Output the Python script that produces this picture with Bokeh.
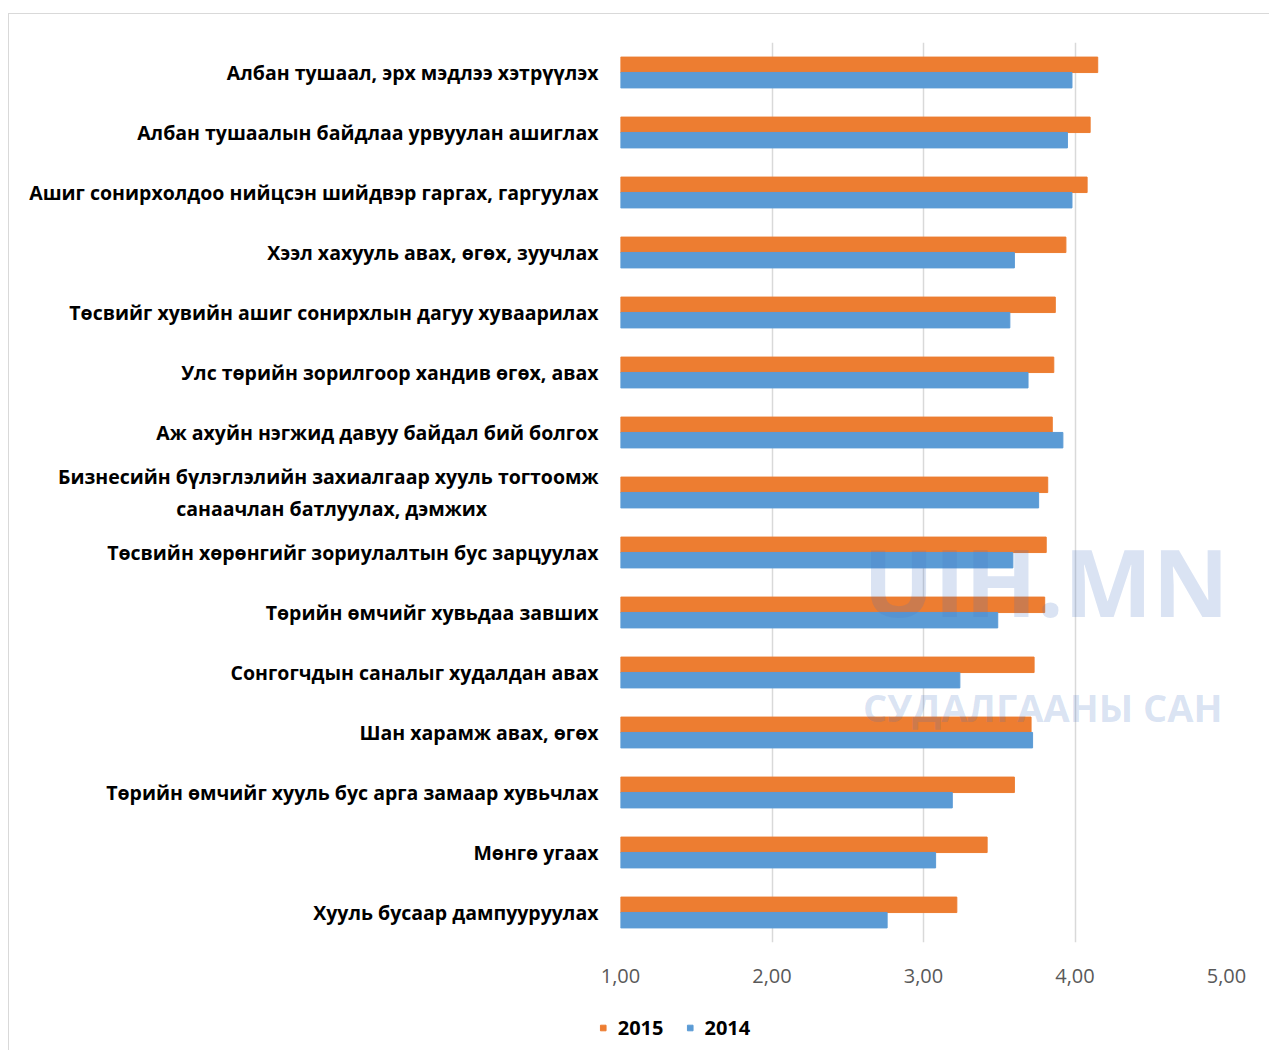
from bokeh.plotting import figure
from bokeh.models import (ColumnDataSource, FactorRange, Range1d, FixedTicker,
                          Legend, LegendItem, Label)
from bokeh.core.properties import value
from bokeh.layouts import column
from bokeh.transform import dodge
from bokeh.embed import file_html
from bokeh.resources import INLINE

categories = [
    "Албан тушаал, эрх мэдлээ хэтрүүлэх",
    "Албан тушаалын байдлаа урвуулан ашиглах",
    "Ашиг сонирхолдоо нийцсэн шийдвэр гаргах, гаргуулах",
    "Хээл хахууль авах, өгөх, зуучлах",
    "Төсвийг хувийн ашиг сонирхлын дагуу хуваарилах",
    "Улс төрийн зорилгоор хандив өгөх, авах",
    "Аж ахуйн нэгжид давуу байдал бий болгох",
    "Бизнесийн бүлэглэлийн захиалгаар хууль тогтоомж\nсанаачлан батлуулах, дэмжих",
    "Төсвийн хөрөнгийг зориулалтын бус зарцуулах",
    "Төрийн өмчийг хувьдаа завших",
    "Сонгогчдын саналыг худалдан авах",
    "Шан харамж авах, өгөх",
    "Төрийн өмчийг хууль бус арга замаар хувьчлах",
    "Мөнгө угаах",
    "Хууль бусаар дампууруулах",
]
values_2015 = [4.15, 4.10, 4.08, 3.94, 3.87, 3.86, 3.85, 3.82, 3.81, 3.80, 3.73, 3.71, 3.60, 3.42, 3.22]
values_2014 = [3.98, 3.95, 3.98, 3.60, 3.57, 3.69, 3.92, 3.76, 3.59, 3.49, 3.24, 3.72, 3.19, 3.08, 2.76]
series_names = ["2015", "2014"]
x_ticks = [1, 2, 3, 4, 5]
x_tick_labels = ["1,00", "2,00", "3,00", "4,00", "5,00"]
watermark_lines = ["UIH.MN", "СУДАЛГААНЫ САН"]

ORANGE = "#ED7D31"
BLUE = "#5B9BD5"
FONT = "Open Sans"

# the second line of the two-line label is centred under the first one
display_labels = []
for c in categories:
    if "\n" in c:
        first, second = c.split("\n")
        c = first + "\n" + second + "\u00a0" * 22
    display_labels.append(c)

source = ColumnDataSource(dict(cat=display_labels, v2015=values_2015, v2014=values_2014,
                               base=[1.0] * len(categories)))

p = figure(width=1260, height=990, output_backend="svg", toolbar_location=None,
           y_range=FactorRange(factors=display_labels[::-1], range_padding=0),
           x_range=Range1d(1, 5),
           min_border_left=611, min_border_right=43, min_border_top=28,
           min_border_bottom=62)
p.outline_line_color = None
p.background_fill_color = "white"
p.border_fill_color = "white"

r15 = p.hbar(y=dodge("cat", 0.128, range=p.y_range), left="base", right="v2015",
             height=0.258, color=ORANGE, source=source)
r14 = p.hbar(y=dodge("cat", -0.128, range=p.y_range), left="base", right="v2014",
             height=0.258, color=BLUE, source=source)

# axes
p.xaxis.ticker = FixedTicker(ticks=x_ticks)
p.xaxis.major_label_overrides = {t: l for t, l in zip(x_ticks, x_tick_labels)}
p.xaxis.axis_line_color = None
p.xaxis.major_tick_line_color = None
p.xaxis.minor_tick_line_color = None
p.xaxis.major_label_text_font = FONT
p.xaxis.major_label_text_font_size = "20px"
p.xaxis.major_label_text_color = "#595959"
p.xaxis.major_label_standoff = 20

p.yaxis.axis_line_color = None
p.yaxis.major_tick_line_color = None
p.yaxis.minor_tick_line_color = None
p.yaxis.major_tick_out = 0
p.yaxis.major_label_text_font = FONT
p.yaxis.major_label_text_font_size = "19.5px"
p.yaxis.major_label_text_font_style = "bold"
p.yaxis.major_label_text_color = "#000000"
p.yaxis.major_label_standoff = 22

p.xgrid.ticker = FixedTicker(ticks=x_ticks)
p.xgrid.grid_line_color = "#d9d9d9"
p.xgrid.grid_line_width = 1.5
p.ygrid.grid_line_color = None

# watermark (semi-transparent, over the bars)
p.add_layout(Label(x=2.6, y=6.02, text=watermark_lines[0], text_font=FONT,
                   text_font_style="bold", text_font_size="94px", text_color="#4472C4",
                   text_alpha=0.2, text_baseline="middle", text_align="left"))
p.add_layout(Label(x=2.6, y=3.93, text=watermark_lines[1], text_font=FONT,
                   text_font_style="bold", text_font_size="38px", text_color="#4472C4",
                   text_alpha=0.2, text_baseline="middle", text_align="left"))

# legend strip below the chart
leg = figure(width=300, height=46, output_backend="svg", toolbar_location=None,
             x_range=Range1d(0, 1), y_range=Range1d(0, 1),
             x_axis_type=None, y_axis_type=None, min_border=0,
             margin=(0, 0, 0, 487))
leg.outline_line_color = None
leg.grid.grid_line_color = None
leg.border_fill_color = "white"
leg.background_fill_color = "white"
leg_src = ColumnDataSource(dict(x=[-10.0], y=[-10.0]))
l15 = leg.scatter(x="x", y="y", marker="square", size=14, color=ORANGE, source=leg_src)
l14 = leg.scatter(x="x", y="y", marker="square", size=14, color=BLUE, source=leg_src)
legend = Legend(items=[LegendItem(label=value(series_names[0]), renderers=[l15]),
                       LegendItem(label=value(series_names[1]), renderers=[l14])],
                orientation="horizontal", location="center",
                label_text_font=FONT, label_text_font_size="20px",
                label_text_font_style="bold", label_text_color="#000000",
                glyph_width=14, glyph_height=14, label_standoff=8, spacing=19,
                padding=2, margin=2, border_line_alpha=0,
                background_fill_alpha=0)
leg.add_layout(legend, "center")

layout = column(p, leg,
                styles={"border-top": "1px solid #d9d9d9", "border-left": "1px solid #d9d9d9",
                        "margin-top": "13px", "margin-left": "8px"})

open("out.html", "w").write(file_html(layout, INLINE))
